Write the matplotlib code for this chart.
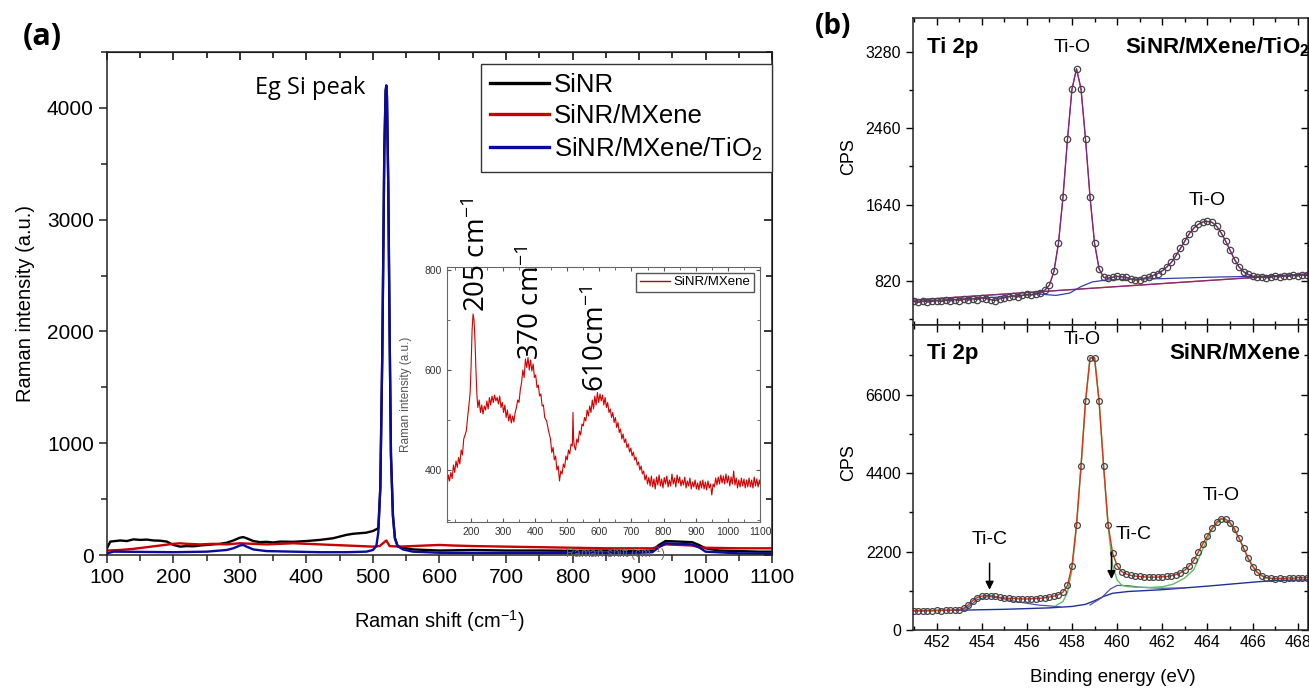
import numpy as np
import matplotlib
matplotlib.use('Agg')
import matplotlib.pyplot as plt
from matplotlib.ticker import MultipleLocator

plt.rcParams['font.family'] = ['Liberation Sans', 'DejaVu Sans']
plt.rcParams['mathtext.fontset'] = 'custom'
plt.rcParams['mathtext.rm'] = 'Liberation Sans'
plt.rcParams['mathtext.it'] = 'Liberation Sans:italic'
plt.rcParams['mathtext.bf'] = 'Liberation Sans:bold'
plt.rcParams['mathtext.default'] = 'regular'

# ---- (a) Raman spectra, (shift, intensity) ----
sinr = [(100, 60), (105, 120), (120, 130), (130, 125), (140, 140), (150, 135), (160, 138),
        (170, 130), (180, 128), (190, 120), (200, 90), (210, 75), (220, 80), (230, 78),
        (240, 85), (250, 90), (260, 95), (270, 100), (280, 110), (290, 130), (300, 155),
        (305, 160), (310, 150), (320, 125), (330, 115), (340, 118), (350, 112), (360, 120),
        (380, 118), (400, 125), (420, 135), (440, 150), (460, 180), (470, 190), (480, 195),
        (490, 200), (500, 215), (505, 230), (508, 240), (511, 600), (514, 1800), (517, 3600),
        (519, 4150), (520, 4200), (521, 4100), (523, 3300), (525, 2000), (527, 900),
        (530, 350), (533, 150), (537, 80), (545, 65), (550, 60), (560, 50), (580, 45),
        (600, 40), (650, 45), (700, 40), (750, 40), (800, 38), (850, 40), (900, 35),
        (920, 40), (930, 90), (940, 125), (960, 120), (980, 115), (990, 90), (1000, 60),
        (1020, 40), (1050, 35), (1080, 30), (1100, 30)]

sinr_mxene = [(100, 40), (120, 45), (140, 55), (160, 70), (180, 85), (200, 100), (210, 105),
              (220, 100), (240, 95), (260, 100), (280, 95), (300, 105), (320, 100), (340, 95),
              (360, 100), (380, 105), (400, 100), (420, 95), (440, 90), (460, 85), (480, 80),
              (500, 75), (510, 80), (520, 130), (525, 80), (540, 75), (560, 80), (580, 85),
              (600, 90), (620, 85), (650, 80), (700, 75), (750, 70), (800, 65), (850, 60),
              (900, 60), (920, 60), (930, 75), (940, 95), (960, 90), (980, 85), (990, 70),
              (1000, 65), (1050, 60), (1100, 60)]

sinr_mxene_tio2 = [(100, 15), (110, 30), (150, 28), (200, 25), (250, 30), (280, 45), (290, 60),
                   (300, 85), (305, 90), (310, 75), (320, 50), (340, 35), (380, 30), (420, 25),
                   (460, 25), (490, 30), (500, 45), (505, 80), (508, 200), (511, 600),
                   (514, 1800), (517, 3600), (519, 4150), (520, 4200), (521, 4100), (523, 3300),
                   (525, 2000), (527, 900), (530, 350), (533, 150), (537, 80), (545, 50),
                   (560, 30), (600, 20), (700, 18), (800, 18), (900, 20), (920, 25), (930, 70),
                   (940, 105), (960, 100), (980, 95), (990, 70), (1000, 30), (1050, 15),
                   (1100, 12)]

# inset: SiNR/MXene zoomed
inset_points = [(126, 365), (130, 390), (134, 378), (138, 395), (142, 383), (146, 410),
                (150, 395), (154, 418), (158, 405), (162, 425), (166, 412), (170, 440),
                (174, 430), (178, 462), (182, 470), (186, 478), (190, 505), (194, 528),
                (198, 555), (201, 610), (204, 680), (207, 712), (210, 700), (213, 660),
                (216, 600), (219, 550), (222, 525), (226, 540), (230, 515), (234, 530),
                (238, 512), (242, 528), (246, 520), (250, 538), (254, 522), (258, 545),
                (262, 530), (266, 548), (270, 535), (274, 550), (278, 538), (282, 545),
                (286, 532), (290, 548), (294, 525), (298, 535), (302, 515), (306, 530),
                (310, 505), (314, 520), (318, 498), (322, 512), (326, 494), (330, 508),
                (334, 496), (338, 515), (342, 525), (346, 540), (350, 535), (354, 560),
                (358, 575), (362, 600), (366, 585), (370, 622), (374, 605), (378, 625),
                (382, 600), (386, 620), (390, 598), (394, 612), (398, 585), (402, 590),
                (406, 565), (410, 570), (414, 548), (418, 552), (422, 528), (426, 530),
                (430, 505), (436, 498), (442, 478), (448, 462), (452, 435), (456, 445),
                (460, 420), (464, 428), (468, 400), (472, 408), (476, 378), (480, 398),
                (484, 392), (488, 412), (492, 405), (496, 428), (500, 420), (504, 440),
                (508, 432), (512, 452), (516, 448), (518, 515), (520, 460), (523, 445),
                (526, 440), (530, 462), (534, 455), (538, 478), (542, 470), (546, 492),
                (550, 488), (554, 505), (558, 498), (562, 520), (566, 508), (570, 528),
                (574, 515), (578, 540), (582, 522), (586, 548), (590, 530), (594, 555),
                (598, 535), (602, 552), (606, 538), (610, 550), (614, 530), (618, 545),
                (622, 525), (626, 535), (630, 515), (634, 522), (638, 505), (642, 515),
                (646, 495), (650, 505), (654, 485), (658, 495), (662, 475), (666, 482),
                (670, 462), (674, 472), (678, 455), (682, 462), (686, 445), (690, 452),
                (694, 436), (698, 444), (702, 428), (706, 436), (710, 420), (714, 426),
                (718, 410), (722, 416), (726, 400), (730, 408), (734, 392), (738, 398),
                (742, 380), (746, 390), (750, 372), (754, 385), (758, 368), (762, 388),
                (766, 366), (770, 382), (774, 362), (778, 386), (782, 370), (786, 390),
                (790, 368), (794, 382), (798, 364), (802, 385), (806, 372), (810, 388),
                (814, 366), (818, 380), (822, 368), (826, 392), (830, 372), (834, 384),
                (838, 366), (842, 390), (846, 374), (850, 386), (854, 368), (858, 380),
                (862, 370), (866, 386), (870, 364), (874, 378), (878, 368), (882, 384),
                (886, 362), (890, 376), (894, 366), (898, 380), (902, 362), (906, 374),
                (910, 360), (914, 378), (918, 364), (922, 380), (926, 362), (930, 376),
                (934, 360), (938, 378), (942, 364), (946, 372), (950, 350), (954, 372),
                (958, 366), (962, 384), (966, 370), (970, 386), (974, 372), (978, 390),
                (982, 374), (986, 388), (990, 372), (994, 392), (998, 374), (1002, 388),
                (1006, 368), (1010, 386), (1014, 372), (1018, 398), (1022, 370), (1026, 384),
                (1030, 364), (1034, 380), (1038, 366), (1042, 384), (1046, 368), (1050, 382),
                (1054, 364), (1058, 380), (1062, 366), (1066, 384), (1070, 366), (1074, 380),
                (1078, 364), (1082, 386), (1086, 368), (1090, 382), (1094, 366), (1098, 380),
                (1100, 372)]

inset_peaks = [(222, 716, '205 cm$^{-1}$'), (390, 620, '370 cm$^{-1}$'), (592, 556, '610cm$^{-1}$')]

# ---- (b) Ti 2p XPS ----
energy = [451.0, 451.2, 451.4, 451.6, 451.8, 452.0, 452.2, 452.4, 452.6, 452.8,
          453.0, 453.2, 453.4, 453.6, 453.8, 454.0, 454.2, 454.4, 454.6, 454.8,
          455.0, 455.2, 455.4, 455.6, 455.8, 456.0, 456.2, 456.4, 456.6, 456.8,
          457.0, 457.2, 457.4, 457.6, 457.8, 458.0, 458.2, 458.4, 458.6, 458.8,
          459.0, 459.2, 459.4, 459.6, 459.8, 460.0, 460.2, 460.4, 460.6, 460.8,
          461.0, 461.2, 461.4, 461.6, 461.8, 462.0, 462.2, 462.4, 462.6, 462.8,
          463.0, 463.2, 463.4, 463.6, 463.8, 464.0, 464.2, 464.4, 464.6, 464.8,
          465.0, 465.2, 465.4, 465.6, 465.8, 466.0, 466.2, 466.4, 466.6, 466.8,
          467.0, 467.2, 467.4, 467.6, 467.8, 468.0, 468.2, 468.4, 468.6, 468.8,
          469.0]

cps_tio2 = [600, 590, 605, 595, 600, 610, 600, 615, 605, 620,
            610, 625, 615, 630, 620, 640, 630, 620, 610, 630,
            640, 650, 660, 650, 665, 675, 670, 685, 690, 722,
            777, 922, 1224, 1718, 2342, 2882, 3100, 2882, 2342, 1718,
            1224, 950, 860, 850, 860, 870, 865, 860, 840, 830,
            835, 850, 860, 880, 900, 930, 970, 1020, 1090, 1170,
            1250, 1330, 1390, 1430, 1455, 1460, 1450, 1410, 1340, 1250,
            1150, 1050, 970, 920, 890, 870, 860, 865, 855, 860,
            870, 865, 875, 870, 880, 875, 885, 880, 890, 885,
            890]

cps_mxene = [540, 545, 535, 545, 540, 550, 545, 555, 550, 560,
             570, 610, 700, 820, 910, 950, 965, 960, 940, 915,
             900, 890, 880, 875, 870, 870, 875, 880, 890, 905,
             925, 950, 990, 1060, 1250, 1800, 2950, 4600, 6420, 7630,
             7630, 6420, 4600, 2950, 2150, 1800, 1640, 1570, 1530, 1510,
             1500, 1490, 1480, 1480, 1485, 1490, 1500, 1520, 1550, 1600,
             1680, 1800, 1960, 2190, 2420, 2640, 2850, 3020, 3120, 3110,
             3010, 2830, 2580, 2300, 2010, 1780, 1620, 1520, 1470, 1450,
             1440, 1450, 1440, 1460, 1450, 1470, 1460, 1470, 1460, 1470,
             1460]

# backgrounds / fit components
tio2_line_e = [451.0, 469.0]
tio2_line_c = [615, 905]
tio2_bg_e = [451.0, 455.0, 456.5, 457.3, 457.9, 458.4, 458.9, 459.5, 460.5, 462.0, 464.0, 466.0, 469.0]
tio2_bg_c = [600, 650, 680, 665, 690, 760, 810, 830, 840, 845, 860, 870, 890]

mx_bg_e = [451.0, 453.0, 455.0, 457.0, 458.0, 458.6, 459.0, 459.4, 459.8, 460.5, 462.0, 464.0, 466.0, 467.0, 469.0]
mx_bg_c = [540, 555, 580, 620, 660, 720, 820, 940, 1030, 1080, 1130, 1230, 1340, 1390, 1410]
tic1_e = [453.0, 453.4, 453.8, 454.3, 454.8, 455.5, 456.5, 457.5]
tic1_c = [555, 640, 850, 940, 900, 800, 700, 650]
tic2_e = [458.8, 459.3, 459.7, 460.0, 460.5, 461.0, 462.0, 463.0]
tic2_c = [700, 900, 1150, 1250, 1240, 1200, 1170, 1180]
tio1_e = [457.3, 457.6, 457.8, 458.0, 458.2, 458.4, 458.6, 458.8, 459.0, 459.2, 459.4,
          459.6, 459.8, 460.0, 460.2, 460.4, 460.8, 461.5, 462.0]
tio1_c = [690, 800, 1050, 1700, 2900, 4580, 6400, 7620, 7620, 6400, 4580,
          2900, 1800, 1400, 1260, 1220, 1200, 1190, 1195]
tio2c_e = [461.5, 462.0, 462.5, 463.0, 463.4, 463.8, 464.2, 464.6, 465.0, 465.4, 465.8, 466.2, 466.6, 467.0]
tio2c_c = [1190, 1210, 1290, 1460, 1700, 2280, 2820, 3110, 3000, 2570, 2000, 1610, 1460, 1420]

raman_colors = ['black', '#c80000', '#0a0aa0']
raman_labels = ['SiNR', 'SiNR/MXene', 'SiNR/MXene/TiO$_2$']

fig = plt.figure(figsize=(13.09, 6.88), dpi=100)

# ================= panel (a) =================
ax = fig.add_axes([0.0817, 0.1933, 0.5081, 0.7311])
for series, c, lab in zip([sinr, sinr_mxene, sinr_mxene_tio2], raman_colors, raman_labels):
    xs, ys = zip(*series)
    ax.plot(xs, ys, color=c, lw=1.7, label=lab)
ax.set_xlim(100, 1100)
ax.set_ylim(0, 4500)
ax.xaxis.set_major_locator(MultipleLocator(100))
ax.xaxis.set_minor_locator(MultipleLocator(50))
ax.yaxis.set_major_locator(MultipleLocator(1000))
ax.yaxis.set_minor_locator(MultipleLocator(500))
ax.tick_params(which='both', direction='out', labelsize=15, width=1.1, color='#222222')
ax.tick_params(which='major', length=6)
ax.tick_params(which='minor', length=4)
for s in ax.spines.values():
    s.set_linewidth(1.1)
    s.set_color('#222222')
sx = ax.secondary_xaxis('top')
sx.xaxis.set_major_locator(MultipleLocator(100))
sx.xaxis.set_minor_locator(MultipleLocator(50))
sx.tick_params(which='both', direction='in', labeltop=False, width=1.1)
sx.tick_params(which='major', length=6)
sx.tick_params(which='minor', length=4)
sy = ax.secondary_yaxis('right')
sy.yaxis.set_major_locator(MultipleLocator(1000))
sy.yaxis.set_minor_locator(MultipleLocator(500))
sy.tick_params(which='both', direction='in', labelright=False, width=1.1)
sy.tick_params(which='major', length=6)
sy.tick_params(which='minor', length=4)

ax.set_xlabel('Raman shift (cm$^{-1}$)', fontsize=14.5)
ax.xaxis.set_label_coords(0.5, -0.105)
ax.set_ylabel('Raman intensity (a.u.)', fontsize=14.5)
ax.yaxis.set_label_coords(-0.108, 0.5)

leg = ax.legend(loc='upper right', bbox_to_anchor=(1.0, 0.976), fontsize=18.5,
                frameon=True, fancybox=False, framealpha=1, edgecolor='#333333',
                handlelength=2.3, handletextpad=0.2, labelspacing=0.28,
                borderpad=0.35, borderaxespad=0)
for h in leg.get_lines():
    h.set_linewidth(2.4)

ax.text(405, 4180, 'Eg Si peak', fontsize=17, family='Open Sans', ha='center', va='center')
fig.text(0.032, 0.946, '(a)', fontsize=22, family='Open Sans', fontweight='bold',
         ha='center', va='center')

# inset
ins = fig.add_axes([0.3415, 0.2413, 0.2391, 0.3706])
ins.set_facecolor('white')
ix, iy = zip(*inset_points)
ins.plot(ix, iy, color='#d40000', lw=0.8, label='SiNR/MXene')
ins.set_xlim(126, 1100)
ins.set_ylim(296, 806)
ins.xaxis.set_major_locator(MultipleLocator(100))
ins.xaxis.set_minor_locator(MultipleLocator(50))
ins.yaxis.set_major_locator(MultipleLocator(200))
ins.yaxis.set_minor_locator(MultipleLocator(100))
ins.tick_params(which='both', direction='in', labelsize=7.5, labelcolor='#333333',
                color='#555555', top=True, right=True)
ins.tick_params(which='major', length=3)
ins.tick_params(which='minor', length=2)
for s in ins.spines.values():
    s.set_color('#666666')
    s.set_linewidth(0.8)
ins.set_xlabel('Raman shift (cm$^{-1}$)', fontsize=8.5, color='#666666')
ins.xaxis.set_label_coords(0.537, -0.09)
ins.set_ylabel('Raman intensity (a.u.)', fontsize=8.5, color='#555555')
ins.yaxis.set_label_coords(-0.112, 0.5)
ileg = ins.legend(loc='upper right', fontsize=9.5, frameon=True, fancybox=False,
                  edgecolor='#555555', framealpha=1, handlelength=2.3, handletextpad=0.3,
                  borderpad=0.25, borderaxespad=0.45)
for h in ileg.get_lines():
    h.set_color('#a01010')
    h.set_linewidth(1.0)
for px, py, txt in inset_peaks:
    ins.text(px, py, txt, rotation=90, fontsize=20, family='Open Sans',
             ha='center', va='bottom', clip_on=False)

# ================= panel (b) =================
ax_top = fig.add_axes([0.6975, 0.5276, 0.3017, 0.4462])
ax_bot = fig.add_axes([0.6975, 0.0843, 0.3017, 0.4433], sharex=ax_top)

ax_top.plot(tio2_line_e, tio2_line_c, color='#c02020', lw=1.0)
ax_top.plot(tio2_line_e, tio2_line_c, color='#7030a0', lw=0.8, alpha=0.8)
ax_top.plot(tio2_bg_e, tio2_bg_c, color='#3040b0', lw=0.9)
ax_top.plot(energy, cps_tio2, color='#c02040', lw=1.0)
ax_top.plot(energy, cps_tio2, color='#6a2a9a', lw=0.7)
ax_top.plot(energy, cps_tio2, 'o', ms=4.6, mfc='none', mec='#444444', mew=0.9)

ax_bot.plot(mx_bg_e, mx_bg_c, color='#20309a', lw=1.0)
ax_bot.plot(tic1_e, tic1_c, color='#5050b0', lw=0.9)
ax_bot.plot(tic2_e, tic2_c, color='#5050b0', lw=0.9)
ax_bot.plot(tio1_e, tio1_c, color='#60c060', lw=1.0)
ax_bot.plot(tio2c_e, tio2c_c, color='#60c060', lw=1.0)
ax_bot.plot(energy, cps_mxene, color='#e03010', lw=1.0)
ax_bot.plot(energy, cps_mxene, 'o', ms=4.2, mfc='none', mec='#444444', mew=0.9)

ax_top.set_xlim(450.96, 468.45)
ax_top.set_ylim(347, 3645)
ax_bot.set_ylim(0, 8550)
ax_top.yaxis.set_major_locator(MultipleLocator(820))
ax_top.yaxis.set_minor_locator(MultipleLocator(410))
ax_bot.yaxis.set_major_locator(MultipleLocator(2200))
ax_bot.yaxis.set_minor_locator(MultipleLocator(1100))
ax_bot.xaxis.set_major_locator(MultipleLocator(2))
ax_bot.xaxis.set_minor_locator(MultipleLocator(1))
ax_top.tick_params(axis='x', labelbottom=False)

for a, maj, mnr in [(ax_top, 820, 410), (ax_bot, 2200, 1100)]:
    a.tick_params(axis='x', which='both', direction='in', top=True, bottom=True,
                  labelsize=11.5, width=1.0)
    a.tick_params(axis='y', which='both', direction='out', labelsize=11.5, width=1.0)
    a.tick_params(which='major', length=5)
    a.tick_params(which='minor', length=3)
    for s in a.spines.values():
        s.set_linewidth(1.1)
        s.set_color('#222222')
    ry = a.secondary_yaxis('right')
    ry.yaxis.set_major_locator(MultipleLocator(maj))
    ry.yaxis.set_minor_locator(MultipleLocator(mnr))
    ry.tick_params(which='both', direction='in', labelright=False, width=1.0)
    ry.tick_params(which='major', length=5)
    ry.tick_params(which='minor', length=3)
    a.set_ylabel('CPS', fontsize=13)
    a.yaxis.set_label_coords(-0.142, 0.55)
    a.text(0.035, 0.905, 'Ti 2p', transform=a.transAxes, fontsize=16,
           fontweight='bold', ha='left', va='center')

ax_top.text(0.537, 0.905, r'SiNR/MXene/TiO$_\mathbf{2}$', transform=ax_top.transAxes,
            fontsize=16, fontweight='bold', ha='left', va='center')
ax_top.text(458.0, 3323, 'Ti-O', fontsize=14, ha='center', va='center')
ax_top.text(464.0, 1683, 'Ti-O', fontsize=14, ha='center', va='center')

ax_bot.text(0.98, 0.908, 'SiNR/MXene', transform=ax_bot.transAxes,
            fontsize=16, fontweight='bold', ha='right', va='center')
ax_bot.text(458.45, 8130, 'Ti-O', fontsize=14, ha='center', va='center')
ax_bot.text(464.6, 3760, 'Ti-O', fontsize=14, ha='center', va='center')
ax_bot.text(454.35, 2550, 'Ti-C', fontsize=14, ha='center', va='center')
ax_bot.text(460.75, 2680, 'Ti-C', fontsize=14, ha='center', va='center')
ax_bot.annotate('', xy=(454.35, 1050), xytext=(454.35, 1950),
                arrowprops=dict(arrowstyle='-|>', color='black', lw=1.1, mutation_scale=12))
ax_bot.annotate('', xy=(459.75, 1350), xytext=(459.75, 2250),
                arrowprops=dict(arrowstyle='-|>', color='black', lw=1.1, mutation_scale=12))

ax_bot.set_xlabel('Binding energy (eV)', fontsize=13.5)
ax_bot.xaxis.set_label_coords(0.506, -0.128)

fig.text(0.6364, 0.961, '(b)', fontsize=20, family='Open Sans', fontweight='bold',
         ha='center', va='center')

fig.savefig('out.png', dpi=100)
